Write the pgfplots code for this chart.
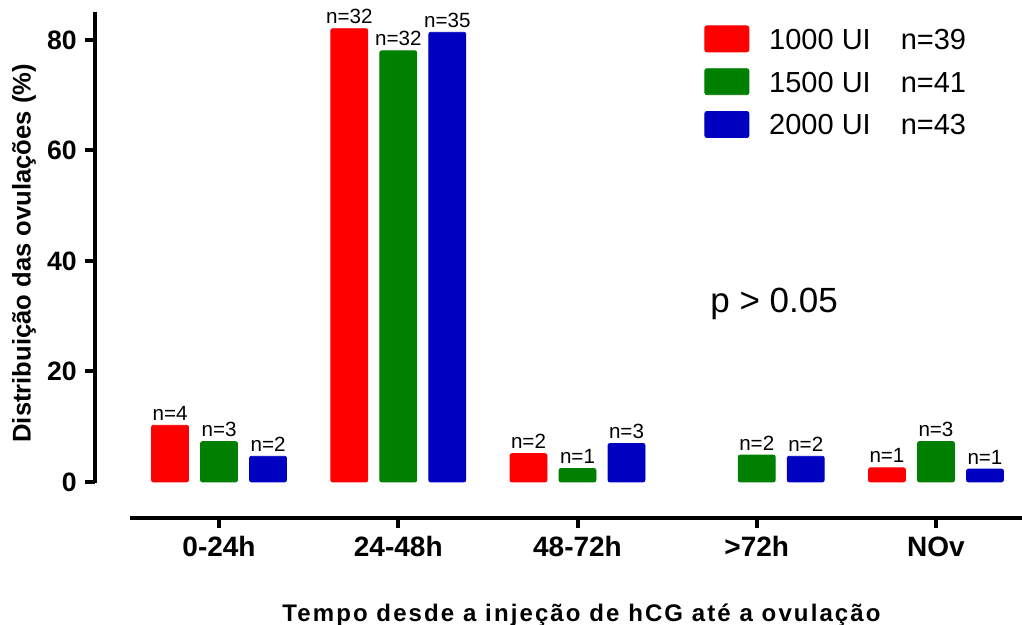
\documentclass[border=0pt]{standalone}
\usepackage{fontspec}
\setmainfont{Liberation Sans}
\newfontfamily\spacedfont[LetterSpace=8.8]{Liberation Sans}
\usepackage{pgfplots}
\pgfplotsset{compat=1.18}
\definecolor{cRed}{RGB}{255,0,0}
\definecolor{cGreen}{RGB}{0,128,0}
\definecolor{cBlue}{RGB}{0,0,192}

\begin{document}
\begin{tikzpicture}
\useasboundingbox (-47.5pt,-53.5pt) rectangle (463.5pt,259pt);
\begin{axis}[
  at={(0pt,0pt)}, anchor=south west,
  scale only axis, width=463.5pt, height=253pt,
  xmin=-0.692, xmax=4.48, ymin=-6.52, ymax=85.07,
  clip=false,
  axis x line*=bottom, axis y line*=left,
  axis line style={draw=none},
  ybar=6pt, bar width=18.5pt,
  xtick={0,1,2,3,4}, xticklabels={0-24h,24-48h,48-72h,>72h,NOv},
  ytick={0,20,40,60,80},
  tick align=outside,
  major tick length=5pt,
  tick style={black, line width=2pt},
  /pgf/number format/assume math mode=true,
  xticklabel style={font=\fontsize{14}{16}\selectfont\bfseries, anchor=base, yshift=-14.5pt},
  yticklabel style={font=\fontsize{13.3}{15}\selectfont\bfseries, anchor=east, inner sep=0pt, xshift=-4pt},
  xlabel={\spacedfont\bfseries Tempo desde a injeção de hCG até a ovulação},
  xlabel style={at={(axis description cs:0.5248,-0.2036)}, anchor=base, font=\fontsize{12}{14}\selectfont},
  ylabel={Distribuição das ovulações (\%)},
  ylabel style={at={(axis description cs:-0.0766,0.523)}, anchor=center, font=\fontsize{12.8}{14}\selectfont\bfseries},
  nodes near coords,
  point meta=explicit symbolic,
  every node near coord/.append style={font=\fontsize{10.3}{12}\selectfont, anchor=base, inner sep=0pt, yshift=2.5pt, black},
  legend style={at={(axis cs:2.706,82.7)}, anchor=north west, draw=none, fill=none, inner sep=0pt,
    row sep=8pt, column sep=10pt, font=\fontsize{14.5}{17}\selectfont,
    nodes={inner sep=0pt, text height=10.4pt, text depth=0pt}},
  legend cell align=left,
  legend image code/.code={\fill[#1] (0pt,-6.5pt) rectangle (22pt,6.5pt);},
]
\addplot[fill=cRed, draw=cRed, rounded corners=1pt] coordinates {
  (0,10.26) [n=4] (1,82.05) [n=32] (2,5.13) [n=2] (4,2.56) [n=1]};
\addlegendentry{1000 UI\hspace{15pt}n=39}
\addplot[fill=cGreen, draw=cGreen, rounded corners=1pt] coordinates {
  (0,7.32) [n=3] (1,78.05) [n=32] (2,2.44) [n=1] (3,4.88) [n=2] (4,7.32) [n=3]};
\addlegendentry{1500 UI\hspace{15pt}n=41}
\addplot[fill=cBlue, draw=cBlue, rounded corners=1pt] coordinates {
  (0,4.65) [n=2] (1,81.40) [n=35] (2,6.98) [n=3] (3,4.65) [n=2] (4,2.33) [n=1]};
\addlegendentry{2000 UI\hspace{15pt}n=43}
\draw[line width=2pt] (axis cs:-0.692,-0.15) -- (axis cs:-0.692,85.07);
\draw[line width=2pt] (axis cs:-0.497,-6.52) -- (axis cs:4.48,-6.52);
\node[anchor=base west, inner sep=0pt, font=\fontsize{17.5}{20}\selectfont] at (axis cs:2.739,30.6) {p > 0.05};
\end{axis}
\end{tikzpicture}
\end{document}
